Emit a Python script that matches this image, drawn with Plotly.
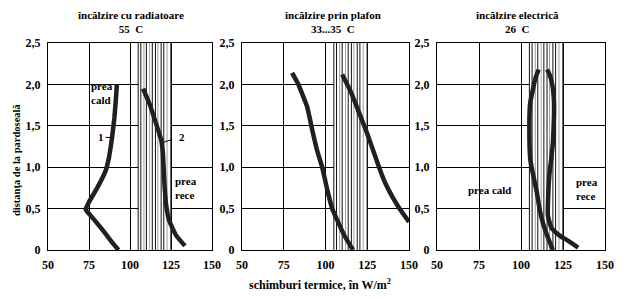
import plotly.graph_objects as go

# ---- data ----
titles = ["încălzire cu radiatoare<br>55  C", "încălzire prin plafon<br>33...35  C", "încălzire electrică<br>26  C"]
x_ticks = [50, 75, 100, 125, 150]
y_ticks = [0, 0.5, 1.0, 1.5, 2.0, 2.5]
y_tick_labels = ["0", "0,5", "1,0", "1,5", "2,0", "2,5"]

# comfort band (W/m2)
band_lo, band_hi = 105, 125
band_lines = [105, 106.6, 108.5, 110, 112, 113.6, 115.5, 117, 119, 120.6, 122.6, 125]
band_colors = ["#111", "#111", "#9a9a9a", "#111", "#a5a5a5", "#111", "#111", "#9a9a9a", "#111", "#111", "#a0a0a0", "#111"]

# panel 1: radiators
p1_c1_x = [93, 88, 83, 78, 73, 75, 80, 85, 87, 89, 90.5, 91.5, 92]
p1_c1_y = [0.0, 0.12, 0.25, 0.37, 0.49, 0.58, 0.75, 0.95, 1.1, 1.35, 1.6, 1.85, 2.0]
p1_c2_x = [108, 112, 116, 119, 120, 120.5, 121, 122, 124, 128, 133.5]
p1_c2_y = [1.95, 1.76, 1.52, 1.33, 1.18, 1.0, 0.8, 0.55, 0.35, 0.18, 0.05]

# panel 2: ceiling heating
p2_c1_x = [80, 83.5, 89, 92.5, 95, 98, 101.5, 104, 107, 111.7, 116.5]
p2_c1_y = [2.14, 2.01, 1.73, 1.41, 1.2, 1.0, 0.69, 0.5, 0.36, 0.16, 0.0]
p2_c2_x = [110, 114.7, 119.5, 124.9, 128.4, 132.6, 136, 140.4, 145, 150]
p2_c2_y = [2.12, 1.93, 1.69, 1.41, 1.21, 0.97, 0.8, 0.63, 0.48, 0.34]

# panel 3: electric heating
p3_c1_x = [119, 116, 113, 111, 109.5, 107, 105.5, 105, 105, 105.5, 107, 108.5, 110.5]
p3_c1_y = [0.0, 0.15, 0.33, 0.5, 0.69, 0.93, 1.1, 1.33, 1.6, 1.78, 1.93, 2.07, 2.18]
p3_c2_x = [115.5, 117, 118.5, 119.6, 119.6, 119, 118, 117, 116.3, 116, 118, 121.4, 124, 127.4, 131, 134]
p3_c2_y = [2.18, 2.12, 2.01, 1.8, 1.6, 1.3, 1.1, 0.93, 0.7, 0.42, 0.27, 0.2, 0.16, 0.12, 0.07, 0.03]

curves = [
    (1, p1_c1_x, p1_c1_y), (1, p1_c2_x, p1_c2_y),
    (2, p2_c1_x, p2_c1_y), (2, p2_c2_x, p2_c2_y),
    (3, p3_c1_x, p3_c1_y), (3, p3_c2_x, p3_c2_y),
]

FONT = "Liberation Serif"
INK = "#231f20"

fig = go.Figure()
for k, xs, ys in curves:
    sfx = "" if k == 1 else str(k)
    fig.add_trace(go.Scatter(x=xs, y=ys, mode="lines", xaxis="x" + sfx, yaxis="y" + sfx,
                             line=dict(color=INK, width=4.5, shape="spline", smoothing=0.35),
                             showlegend=False, hoverinfo="skip"))

domains = [(48 / 630, 212 / 630), (242 / 630, 409 / 630), (437 / 630, 605 / 630)]
ydom = (1 - 250 / 298, 1 - 43 / 298)
layout = dict(width=630, height=298, margin=dict(l=0, r=0, t=0, b=0, autoexpand=False),
              paper_bgcolor="white", plot_bgcolor="white", showlegend=False)
tickfont = dict(family=FONT, size=12, color="black", weight="bold")
for i, d in enumerate(domains):
    sfx = "" if i == 0 else str(i + 1)
    layout["xaxis" + sfx] = dict(domain=list(d), range=[50, 150], tickvals=x_ticks,
                                 anchor="y" + sfx, showgrid=True, gridcolor="black", gridwidth=1,
                                 showline=True, linecolor="black", linewidth=1, mirror=True, automargin=False,
                                 ticks="", tickfont=tickfont, ticklabelstandoff=4, zeroline=False, fixedrange=True)
    layout["yaxis" + sfx] = dict(domain=list(ydom), range=[0, 2.5], tickvals=y_ticks, ticktext=y_tick_labels,
                                 anchor="x" + sfx, showgrid=True, gridcolor="black", gridwidth=1,
                                 showline=True, linecolor="black", linewidth=1, mirror=True, automargin=False,
                                 ticks="", tickfont=tickfont, ticklabelstandoff=4, zeroline=False, fixedrange=True)
fig.update_layout(**layout)

# comfort band shapes
for i in range(3):
    sfx = "" if i == 0 else str(i + 1)
    fig.add_shape(type="rect", xref="x" + sfx, yref="y" + sfx, x0=band_lo, x1=band_hi, y0=0, y1=2.5,
                  fillcolor="white", line=dict(width=0), layer="between")
    for xv, c in zip(band_lines, band_colors):
        fig.add_shape(type="line", xref="x" + sfx, yref="y" + sfx, x0=xv, x1=xv, y0=0, y1=2.5,
                      line=dict(color=c, width=1.3 if xv == band_hi else 1), layer="between")

afont = dict(family=FONT, size=11, color="black", weight="bold")
# titles
title_x = [130, 332, 517]
for t, xp in zip(titles, title_x):
    fig.add_annotation(text=t, x=xp / 630, y=1 - 22 / 298, xref="paper", yref="paper",
                       xanchor="center", yanchor="middle",
                       showarrow=False, font=dict(family=FONT, size=11, color="black", weight="bold"),
                       align="center")

# in-plot labels
fig.add_annotation(text="prea<br>cald", x=83, y=1.9, xref="x", yref="y", showarrow=False, font=afont, align="left")
fig.add_annotation(text="prea<br>rece", x=134, y=0.75, xref="x", yref="y", showarrow=False, font=afont, align="left")
fig.add_annotation(text="prea cald", x=81.5, y=0.72, xref="x3", yref="y3", showarrow=False, font=afont)
fig.add_annotation(text="prea<br>rece", x=139.5, y=0.74, xref="x3", yref="y3", showarrow=False, font=afont, align="left")
fig.add_annotation(text="1", x=82.5, y=1.36, xref="x", yref="y", showarrow=False, font=afont)
fig.add_annotation(text="2", x=132, y=1.36, xref="x", yref="y", showarrow=False, font=afont)
fig.add_shape(type="line", xref="x", yref="y", x0=85, x1=89.3, y0=1.36, y1=1.36, line=dict(color="black", width=1))
fig.add_shape(type="line", xref="x", yref="y", x0=120.5, x1=129, y0=1.3, y1=1.36, line=dict(color="black", width=1, dash="dash"))

# axis titles
fig.add_annotation(text="distanţa de la pardoseală", x=16 / 630, y=1 - 160 / 298, xref="paper", yref="paper",
                   xanchor="center", yanchor="middle",
                   showarrow=False, textangle=-90, font=dict(family=FONT, size=10.5, color="black", weight="bold"))
fig.add_annotation(text="schimburi termice, în W/m<sup>2</sup>", x=320 / 630, y=1 - 284 / 298, xref="paper", yref="paper",
                   xanchor="center", yanchor="middle",
                   showarrow=False, font=dict(family=FONT, size=12, color="black", weight="bold"))

fig.write_html("out.html")
